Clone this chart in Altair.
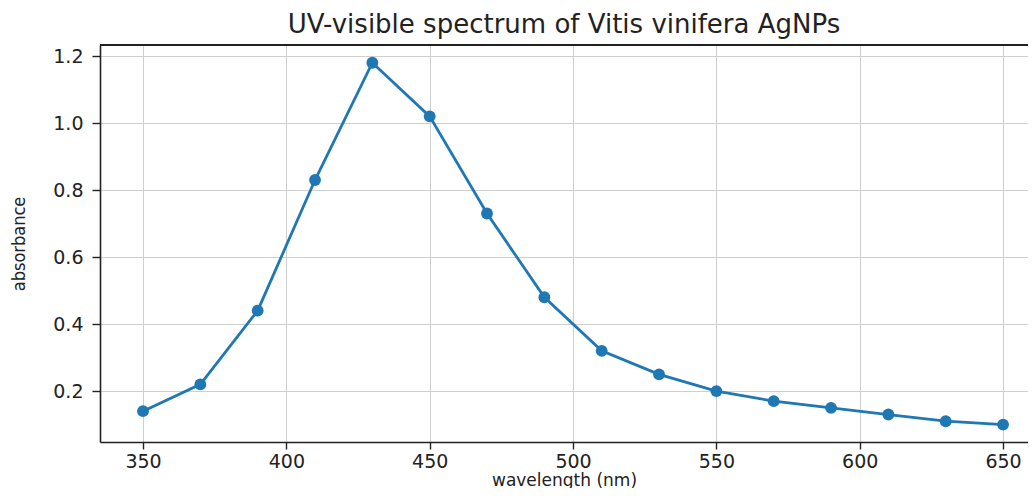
import altair as alt
import pandas as pd

wavelength = [350, 370, 390, 410, 430, 450, 470, 490, 510, 530, 550, 570, 590, 610, 630, 650]
absorbance = [0.14, 0.22, 0.44, 0.83, 1.18, 1.02, 0.73, 0.48, 0.32, 0.25, 0.20, 0.17, 0.15, 0.13, 0.11, 0.10]
x_ticks = [350, 400, 450, 500, 550, 600, 650]
y_ticks = [0.2, 0.4, 0.6, 0.8, 1.0, 1.2]

df = pd.DataFrame({"wavelength": wavelength, "absorbance": absorbance})

W, H = 928, 397
BLUE = "#1f77b4"
FONT = "DejaVu Sans"

x_enc = alt.X(
    "wavelength:Q",
    scale=alt.Scale(domain=[335, 658.7], nice=False, zero=False),
    axis=alt.Axis(
        values=x_ticks, title="wavelength (nm)", grid=True, format="d",
        labelFontSize=19, titleFontSize=17, titleFontWeight="normal",
        labelFont=FONT, titleFont=FONT, labelColor="#222", titleColor="#222",
        domainColor="#222", domainWidth=1.6, tickColor="#222", tickWidth=1.4,
        tickSize=7, labelPadding=3, titlePadding=1,
        gridColor="#cfcfcf", gridWidth=1,
    ),
)
y_enc = alt.Y(
    "absorbance:Q",
    scale=alt.Scale(domain=[0.048, 1.233], nice=False, zero=False),
    axis=alt.Axis(
        values=y_ticks, title="absorbance", grid=True, format=".1f",
        labelFontSize=19, titleFontSize=18, titleFontWeight="normal",
        labelFont=FONT, titleFont="DejaVu Sans Condensed", labelColor="#222", titleColor="#222",
        domainColor="#222", domainWidth=1.6, tickColor="#222", tickWidth=1.4,
        tickSize=8, labelPadding=9, titlePadding=24,
        gridColor="#cfcfcf", gridWidth=1,
    ),
)

base = alt.Chart(df)
line = base.mark_line(color=BLUE, strokeWidth=2.8).encode(x=x_enc, y=y_enc)
pts = base.mark_circle(color=BLUE, size=140, opacity=1).encode(x="wavelength:Q", y="absorbance:Q")
top = alt.Chart(df).mark_rule(color="#222", strokeWidth=1.6).encode(
    x=alt.value(0), x2=alt.value(W), y=alt.value(0)
)

chart = (
    alt.layer(line, pts, top)
    .properties(
        width=W, height=H,
        title=alt.TitleParams(
            "UV-visible spectrum of Vitis vinifera AgNPs",
            fontSize=26, font=FONT, fontWeight="normal", color="#222",
            anchor="middle", offset=6,
        ),
        autosize=alt.AutoSizeParams(type="none"),
        padding={"left": 92, "top": 37, "right": 0, "bottom": 46},
    )
    .configure_view(strokeWidth=0)
)

chart.save("out.html", embed_options={"renderer": "svg", "actions": False})
